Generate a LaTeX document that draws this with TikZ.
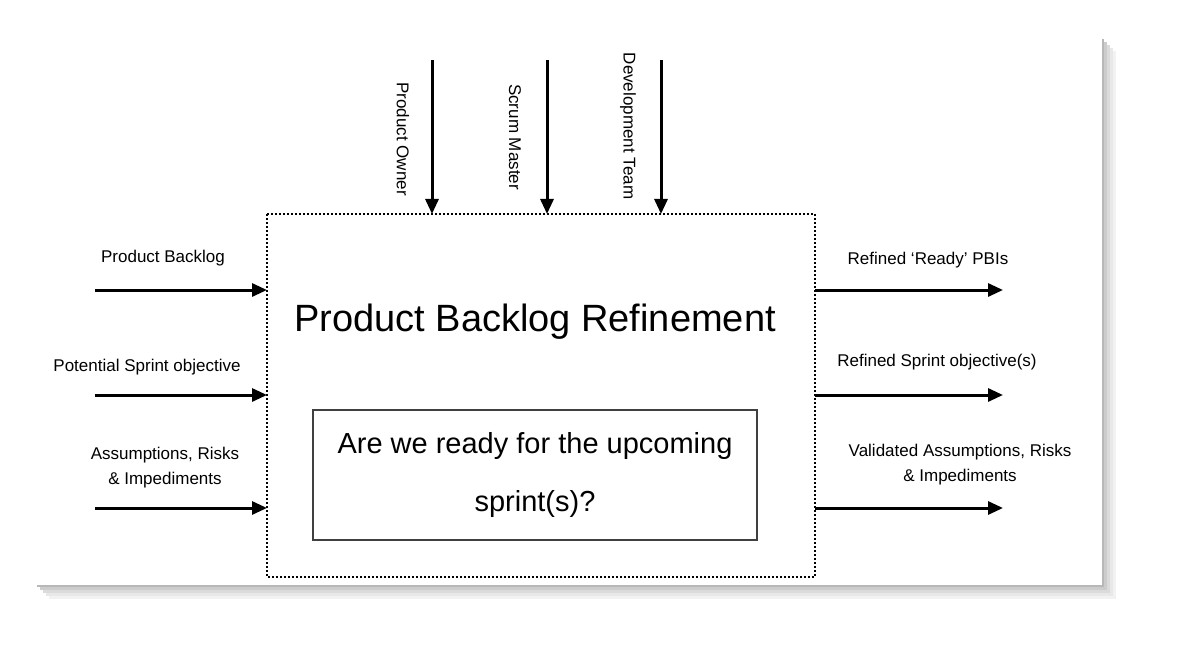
\documentclass[tikz,border=0pt]{standalone}
\usepackage{fontspec}
\setmainfont{Liberation Sans}
\usetikzlibrary{arrows.meta}
\begin{document}
\begin{tikzpicture}[x=1pt,y=-1pt,
  arr/.style={line width=3pt,-{Triangle[length=15pt,width=13pt]}},
  lbl/.style={font=\fontsize{17}{19}\selectfont,inner sep=0pt},
  vl/.style={lbl,rotate=-90}]
\useasboundingbox (0,0) rectangle (1196,652);
\fill[white] (0,0) rectangle (1196,652);
\foreach \i/\c in {14/5,11/9,8/14,5/20,2/28}{
  \fill[black!\c] (35+\i,37+\i) rectangle (1102+\i,585+\i);}
\fill[white] (35,37) rectangle (1102,585);
\draw[dotted,line width=2pt] (267,214) rectangle (815,577);
\node[font=\fontsize{38}{42}\selectfont] (title) at (535,322) {Product Backlog Refinement};
\draw[line width=1.5pt,black!75] (313,410) rectangle (757,540);
\node[align=center,font=\fontsize{29}{58}\selectfont] (q) at (535,475) {Are we ready for the upcoming\\sprint(s)?};
% top
\coordinate (t1) at (432,60); \coordinate (b1) at (432,214);
\coordinate (t2) at (547,60); \coordinate (b2) at (547,214);
\coordinate (t3) at (661,60); \coordinate (b3) at (661,214);
\draw[arr] (t1) -- (b1); \draw[arr] (t2) -- (b2); \draw[arr] (t3) -- (b3);
\node[vl] (po) at (403,139) {Product Owner};
\node[vl] (sm) at (515,137) {Scrum Master};
\node[vl] (dt) at (628,126) {Development Team};
\foreach \y/\n in {290/a,395/b,508/c}{
  \coordinate (l\n) at (95,\y); \coordinate (m\n) at (267,\y);
  \coordinate (r\n) at (815,\y); \coordinate (e\n) at (1003,\y);
  \draw[arr] (l\n) -- (m\n); \draw[arr] (r\n) -- (e\n);}
\node[lbl] (pb) at (163,258) {Product Backlog};
\node[lbl] (ps) at (147,367) {Potential Sprint objective};
\node[lbl,align=center] (ar) at (165,468) {Assumptions, Risks\\[6pt]\& Impediments};
\node[lbl] (rr) at (928,260) {Refined ‘Ready’ PBIs};
\node[lbl] (rs) at (937,362) {Refined Sprint objective(s)};
\node[lbl,align=center] (va) at (960,465) {Validated Assumptions, Risks\\[6pt]\& Impediments};
\end{tikzpicture}
\end{document}
